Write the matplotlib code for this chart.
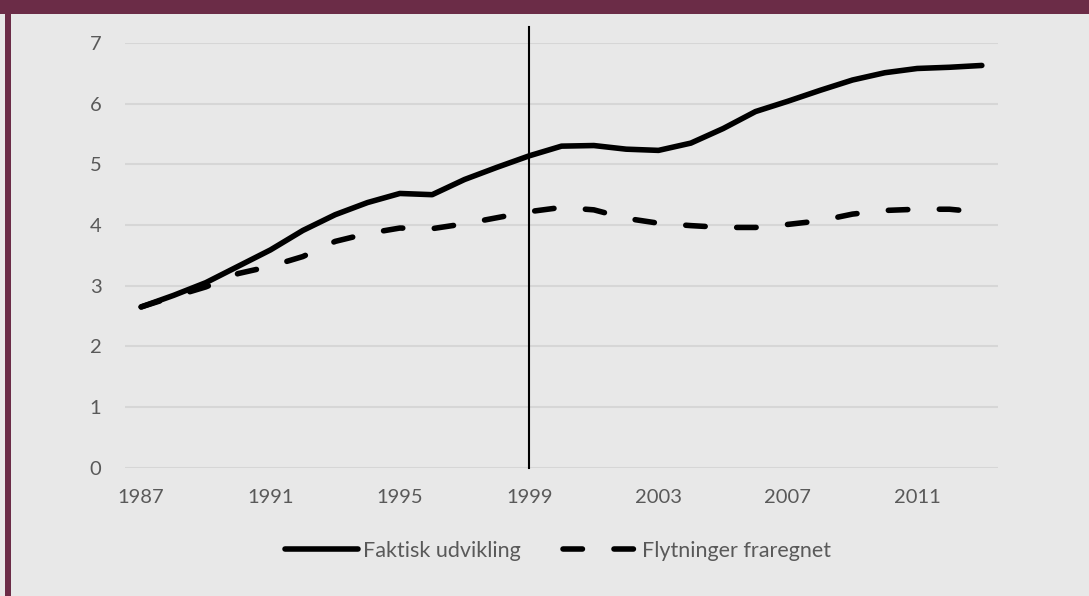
import matplotlib
matplotlib.use("Agg")
import matplotlib.pyplot as plt
from matplotlib.patches import Rectangle
from matplotlib.lines import Line2D

years = list(range(1987, 2014))
faktisk = [2.65, 2.84, 3.05, 3.32, 3.59, 3.91, 4.17, 4.37, 4.52, 4.50, 4.75, 4.95,
           5.14, 5.30, 5.31, 5.25, 5.23, 5.35, 5.59, 5.87, 6.04, 6.22, 6.39, 6.51,
           6.58, 6.60, 6.63]
fraregnet = [2.65, 2.82, 2.98, 3.20, 3.32, 3.48, 3.73, 3.86, 3.95, 3.94, 4.02, 4.12,
             4.22, 4.29, 4.25, 4.11, 4.03, 3.99, 3.96, 3.96, 4.01, 4.07, 4.18, 4.24,
             4.26, 4.26, 4.21]
xtick_years = [1987, 1991, 1995, 1999, 2003, 2007, 2011]
yticks = [0, 1, 2, 3, 4, 5, 6, 7]
marker_year = 1999
labels = ["Faktisk udvikling", "Flytninger fraregnet"]

BG = "#e8e8e8"
MAROON = "#6b2c47"
GRID = "#d6d6d6"
TXT = "#595959"

plt.rcParams['font.family'] = ['Lato', 'DejaVu Sans']
plt.rcParams['lines.scale_dashes'] = False

W, H = 1089, 596
fig = plt.figure(figsize=(W / 100, H / 100), dpi=100, facecolor=BG)
ax = fig.add_axes([125 / W, 1 - 467.7 / H, (998 - 125) / W, (467.7 - 43) / H])
ax.set_facecolor(BG)

x = list(range(len(years)))
ax.plot(x, faktisk, color="black", lw=4, solid_capstyle="round", solid_joinstyle="round",
        label=labels[0])
ax.plot(x, fraregnet, color="black", lw=4, dashes=(14, 22.7), dash_capstyle="round",
        dash_joinstyle="round", label=labels[1])

vi = years.index(marker_year)
ax.plot([vi, vi], [0, 7.26], color="black", lw=1.5, clip_on=False, zorder=1)

ax.set_xlim(-0.5, len(years) - 0.5)
ax.set_ylim(0, 7)
ax.set_yticks(yticks)
ax.set_yticklabels([str(v) for v in yticks])
ax.set_xticks([years.index(y) for y in xtick_years])
ax.set_xticklabels([str(y) for y in xtick_years])
ax.tick_params(axis="both", length=0, labelsize=14.5, labelcolor=TXT)
ax.tick_params(axis="x", pad=15)
ax.tick_params(axis="y", pad=17)
for s in ax.spines.values():
    s.set_visible(False)
ax.grid(axis="y", color=GRID, lw=1.5)
ax.set_axisbelow(True)

h1 = Line2D([], [], color="black", lw=4, solid_capstyle="round")
h2 = Line2D([], [], color="black", lw=4, dashes=(14, 22.7), dash_capstyle="round")
leg = fig.legend([h1, h2], labels, loc="center", bbox_to_anchor=(0.512, 1 - 551 / H),
                 ncol=2, frameon=False, fontsize=15.5, handlelength=3.4,
                 handletextpad=0.23, columnspacing=2.0, labelcolor=TXT)

fig.patches.append(Rectangle((0, 1 - 14 / H), 1, 14 / H, transform=fig.transFigure,
                             facecolor=MAROON, edgecolor="none", zorder=10))
fig.patches.append(Rectangle((5 / W, 0), 6 / W, 1, transform=fig.transFigure,
                             facecolor=MAROON, edgecolor="none", zorder=10))

fig.savefig("out.png", dpi=100, facecolor=BG)
